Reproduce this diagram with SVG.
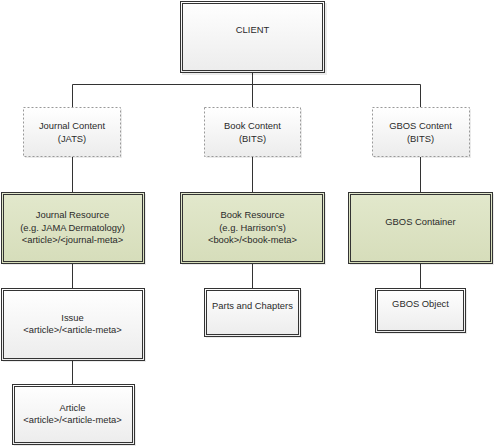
<svg xmlns="http://www.w3.org/2000/svg" width="495" height="447" viewBox="0 0 495 447">
<defs>
<linearGradient id="gw" x1="0" y1="0" x2="0" y2="1"><stop offset="0" stop-color="#ffffff"/><stop offset="1" stop-color="#ececec"/></linearGradient>
<linearGradient id="gg" x1="0" y1="0" x2="0" y2="1"><stop offset="0" stop-color="#e2e8cc"/><stop offset="1" stop-color="#d6ddba"/></linearGradient>
</defs>
<style>
.o{fill:url(#gw);stroke:#333;stroke-width:1}
.og{fill:url(#gg);stroke:#333;stroke-width:1}
.i{fill:none;stroke:#333;stroke-width:1}
.d{fill:url(#gw);stroke:#999;stroke-width:1;stroke-dasharray:2,2}
.sh{fill:#000;opacity:0.08}
.t{font-family:"Liberation Sans",Arial,sans-serif;font-size:9.4px;fill:#2a2a2a;text-anchor:middle}
.c{stroke:#333;stroke-width:1;fill:none}
</style>
<rect width="495" height="447" fill="#fff"/>
<g id="connectors">
<path class="c" d="M252.5 72 V84.5 M72.5 84.5 H420.5 M72.5 84.5 V107 M252.5 84.5 V107 M420.5 84.5 V107 M72.5 157 V192 M252.5 157 V192 M420.5 157 V192 M72.5 264 V288 M252.5 264 V288 M420.5 264 V288 M72.5 361 V384"/>
</g>
<g id="client">
<rect class="sh" x="182" y="3" width="145" height="72"/>
<rect class="o" x="180.5" y="1.5" width="144" height="71"/>
<rect class="i" x="182.5" y="3.5" width="140" height="67"/>
<text class="t" x="252.5" y="33">CLIENT</text>
</g>
<g id="journal-content">
<rect class="sh" x="25" y="109" width="97" height="49"/>
<rect class="d" x="23.5" y="107.5" width="97" height="49"/>
<text class="t" x="72" y="128.5">Journal Content</text>
<text class="t" x="72" y="142">(JATS)</text>
</g>
<g id="book-content">
<rect class="sh" x="206" y="109" width="96" height="49"/>
<rect class="d" x="204.5" y="107.5" width="96" height="49"/>
<text class="t" x="252.5" y="128.5">Book Content</text>
<text class="t" x="252.5" y="142">(BITS)</text>
</g>
<g id="gbos-content">
<rect class="sh" x="374" y="109" width="97" height="49"/>
<rect class="d" x="372.5" y="107.5" width="97" height="49"/>
<text class="t" x="420.5" y="128.5">GBOS Content</text>
<text class="t" x="420.5" y="142">(BITS)</text>
</g>
<g id="journal-resource">
<rect class="sh" x="3" y="194" width="143" height="71"/>
<rect class="og" x="1.5" y="192.5" width="143" height="71"/>
<rect class="i" x="3.5" y="194.5" width="139" height="67"/>
<text class="t" x="72.5" y="218">Journal Resource</text>
<text class="t" x="72.5" y="230.5">(e.g. JAMA Dermatology)</text>
<text class="t" x="72.5" y="242.5">&lt;article&gt;/&lt;journal-meta&gt;</text>
</g>
<g id="book-resource">
<rect class="sh" x="182" y="194" width="144" height="71"/>
<rect class="og" x="180.5" y="192.5" width="144" height="71"/>
<rect class="i" x="182.5" y="194.5" width="140" height="67"/>
<text class="t" x="252.5" y="218">Book Resource</text>
<text class="t" x="252.5" y="230.5">(e.g. Harrison’s)</text>
<text class="t" x="252.5" y="242.5">&lt;book&gt;/&lt;book-meta&gt;</text>
</g>
<g id="gbos-container">
<rect class="sh" x="350" y="194" width="144" height="71"/>
<rect class="og" x="348.5" y="192.5" width="144" height="71"/>
<rect class="i" x="350.5" y="194.5" width="140" height="67"/>
<text class="t" x="420.5" y="224.5">GBOS Container</text>
</g>
<g id="issue">
<rect class="sh" x="3" y="290" width="143" height="72"/>
<rect class="o" x="1.5" y="288.5" width="143" height="72"/>
<rect class="i" x="3.5" y="290.5" width="139" height="68"/>
<text class="t" x="72.5" y="320.5">Issue</text>
<text class="t" x="72.5" y="333">&lt;article&gt;/&lt;article-meta&gt;</text>
</g>
<g id="parts-chapters">
<rect class="sh" x="206" y="290" width="96" height="48"/>
<rect class="o" x="204.5" y="288.5" width="96" height="48"/>
<rect class="i" x="206.5" y="290.5" width="92" height="44"/>
<text class="t" x="252.5" y="308.5">Parts and Chapters</text>
</g>
<g id="gbos-object">
<rect class="sh" x="377" y="290" width="90" height="44"/>
<rect class="o" x="375.5" y="288.5" width="90" height="44"/>
<rect class="i" x="377.5" y="290.5" width="86" height="40"/>
<text class="t" x="420.5" y="307">GBOS Object</text>
</g>
<g id="article">
<rect class="sh" x="14" y="386" width="122" height="60"/>
<rect class="o" x="12.5" y="384.5" width="122" height="60"/>
<rect class="i" x="14.5" y="386.5" width="118" height="56"/>
<text class="t" x="72.5" y="410.5">Article</text>
<text class="t" x="72.5" y="423">&lt;article&gt;/&lt;article-meta&gt;</text>
</g>
</svg>
